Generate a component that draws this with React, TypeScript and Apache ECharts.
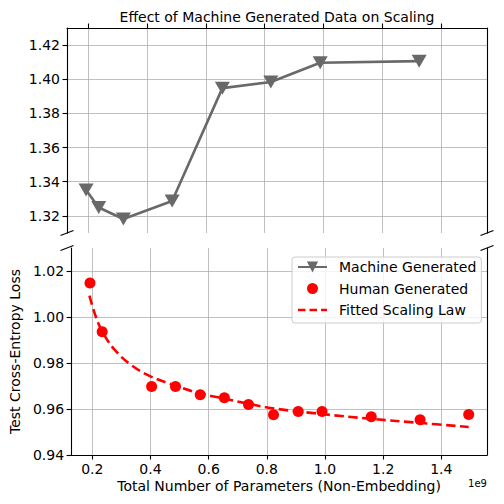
import React, { useEffect, useRef } from "react";
import * as echarts from "echarts";

const machineX = [0.192, 0.235, 0.319, 0.485, 0.656, 0.821, 0.989, 1.326];
const machineY = [1.3352, 1.3249, 1.3182, 1.3287, 1.3948, 1.3984, 1.4097, 1.4106];

const humanX = [0.192, 0.234, 0.404, 0.486, 0.571, 0.654, 0.737, 0.823, 0.908, 0.99, 1.159, 1.327, 1.494];
const humanY = [1.0148, 0.9936, 0.9698, 0.9698, 0.9662, 0.9649, 0.962, 0.9575, 0.9589, 0.9589, 0.9566, 0.9553, 0.9576];

const fitX = [0.19, 0.2125, 0.235, 0.275, 0.332, 0.4, 0.49, 0.57, 0.655, 0.74, 0.82, 0.99, 1.16, 1.33, 1.494];
const fitY = [1.0093, 1.0, 0.9935, 0.986, 0.9793, 0.9742, 0.97, 0.9668, 0.9645, 0.9622, 0.9603, 0.9578, 0.9557, 0.9539, 0.9522];

const xTicks = [0.2, 0.4, 0.6, 0.8, 1.0, 1.2, 1.4];
const topYTicks = [1.32, 1.34, 1.36, 1.38, 1.4, 1.42];
const bottomYTicks = [0.94, 0.96, 0.98, 1.0, 1.02];

const seriesNames = ["Machine Generated", "Human Generated", "Fitted Scaling Law"];

const FONT = "DejaVu Sans";
const L = 67;
const R = 487;
const TOP_T = 28;
const TOP_B = 233;
const BOT_T = 248;
const BOT_B = 455;

const DOT_ICON =
  "path://M0,0L0.01,0M14,14L13.99,14M12.5,7A5.5,5.5,0,1,1,1.5,7A5.5,5.5,0,1,1,12.5,7Z";
const DASH_ICON =
  "path://M0,0h7.5v2.6h-7.5zM11.5,0h7.5v2.6h-7.5zM23,0h6v2.6h-6z";

const zip = (a: number[], b: number[]) => a.map((v, i) => [v, b[i]]);

export default function App() {
  const ref = useRef<HTMLDivElement>(null);
  useEffect(() => {
    const chart = echarts.init(ref.current!, null, { renderer: "svg" });
    const axisLine = { show: true, onZero: false, lineStyle: { color: "#000", width: 1.1 } };
    const tick = (vals: number[]) => ({
      show: true,
      inside: false,
      length: 4.5,
      customValues: vals,
      lineStyle: { color: "#000", width: 1.1 },
    });
    const split = { show: true, lineStyle: { color: "#b0b0b0", width: 0.8 } };
    const lbl = (vals: number[], dec: number, margin: number) => ({
      show: true,
      customValues: vals,
      formatter: (v: number) => v.toFixed(dec),
      color: "#000",
      fontFamily: FONT,
      fontSize: 14,
      margin,
    });
    const brk = (x: number, y: number) => ({
      type: "line",
      shape: { x1: x - 6.5, y1: y + 2.5, x2: x + 6.5, y2: y - 2.5 },
      style: { stroke: "#000", lineWidth: 1.1 },
      z: 100,
    });
    chart.setOption({
      animation: false,
      backgroundColor: "#fff",
      textStyle: { fontFamily: FONT },
      title: {
        text: "Effect of Machine Generated Data on Scaling",
        left: (L + R) / 2,
        textAlign: "center",
        top: 10,
        padding: 0,
        textStyle: { fontFamily: FONT, fontSize: 14, fontWeight: "normal", color: "#000" },
      },
      grid: [
        { left: L, width: R - L, top: TOP_T, height: TOP_B - TOP_T },
        { left: L, width: R - L, top: BOT_T, height: BOT_B - BOT_T },
      ],
      xAxis: [
        {
          type: "value",
          gridIndex: 0,
          position: "top",
          min: 0.127,
          max: 1.557,
          axisLine,
          axisTick: tick(xTicks),
          axisLabel: { show: false, customValues: xTicks },
          splitLine: split,
        },
        {
          type: "value",
          gridIndex: 1,
          position: "bottom",
          min: 0.127,
          max: 1.557,
          axisLine,
          axisTick: tick(xTicks),
          axisLabel: lbl(xTicks, 1, 7),
          splitLine: split,
          name: "Total Number of Parameters (Non-Embedding)",
          nameLocation: "middle",
          nameGap: 24,
          nameTextStyle: { fontFamily: FONT, fontSize: 14, color: "#000" },
        },
      ],
      yAxis: [
        {
          type: "value",
          gridIndex: 0,
          min: 1.31,
          max: 1.43,
          axisLine,
          axisTick: tick(topYTicks),
          axisLabel: lbl(topYTicks, 2, 7),
          splitLine: split,
        },
        {
          type: "value",
          gridIndex: 0,
          position: "right",
          min: 1.31,
          max: 1.43,
          axisLine,
          axisTick: { show: false },
          axisLabel: { show: false },
          splitLine: { show: false },
        },
        {
          type: "value",
          gridIndex: 1,
          min: 0.94,
          max: 1.03,
          axisLine,
          axisTick: tick(bottomYTicks),
          axisLabel: lbl(bottomYTicks, 2, 7),
          splitLine: split,
          name: "Test Cross-Entropy Loss",
          nameLocation: "middle",
          nameGap: 43,
          nameTextStyle: { fontFamily: FONT, fontSize: 14, color: "#000" },
        },
        {
          type: "value",
          gridIndex: 1,
          position: "right",
          min: 0.94,
          max: 1.03,
          axisLine,
          axisTick: { show: false },
          axisLabel: { show: false },
          splitLine: { show: false },
        },
      ],
      legend: {
        orient: "vertical",
        left: 292,
        top: 257,
        padding: [3, 5, 6, 5],
        itemWidth: 29,
        itemHeight: 14,
        itemGap: 7.5,
        backgroundColor: "rgba(255,255,255,0.8)",
        borderColor: "#cccccc",
        borderWidth: 1,
        borderRadius: 3,
        textStyle: { fontFamily: FONT, fontSize: 14, color: "#000", padding: [0, 0, 0, 7] },
        data: [
          { name: seriesNames[0] },
          { name: seriesNames[1], icon: DOT_ICON },
          { name: seriesNames[2], icon: DASH_ICON },
        ],
      },
      graphic: [
        brk(L, TOP_B),
        brk(R, TOP_B),
        brk(L, BOT_T),
        brk(R, BOT_T),
        {
          type: "text",
          x: R,
          y: 483,
          style: {
            text: "1e9",
            fontFamily: FONT,
            fontSize: 10,
            fill: "#000",
            align: "right",
            verticalAlign: "middle",
          },
        },
      ],
      series: [
        {
          name: seriesNames[0],
          type: "line",
          xAxisIndex: 0,
          yAxisIndex: 0,
          data: zip(machineX, machineY),
          symbol: "triangle",
          symbolRotate: 180,
          symbolSize: [15, 13],
          color: "#696969",
          lineStyle: { color: "#696969", width: 2.6 },
          itemStyle: { color: "#696969" },
        },
        {
          name: seriesNames[1],
          type: "scatter",
          xAxisIndex: 1,
          yAxisIndex: 2,
          data: zip(humanX, humanY),
          symbol: "circle",
          symbolSize: 11,
          color: "#ff0000",
          itemStyle: { color: "#ff0000", opacity: 1 },
        },
        {
          name: seriesNames[2],
          type: "line",
          xAxisIndex: 1,
          yAxisIndex: 2,
          data: zip(fitX, fitY),
          smooth: 0.4,
          symbol: "none",
          color: "#ff0000",
          itemStyle: { color: "#ff0000" },
          lineStyle: { color: "#ff0000", width: 2.6, type: [9.5, 4.5] },
        },
      ],
    });
    return () => chart.dispose();
  }, []);
  return (
    <div
      ref={ref}
      style={{ position: "fixed", left: 0, top: 0, width: 504, height: 504 }}
    />
  );
}
